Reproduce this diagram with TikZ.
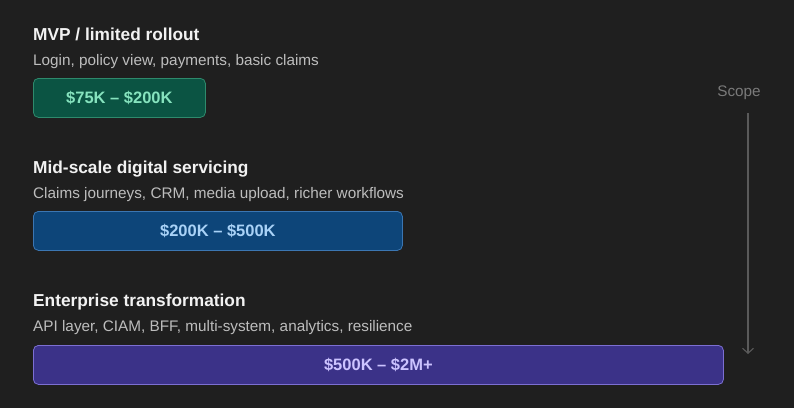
\documentclass[tikz,border=0pt]{standalone}
\usepackage{fontspec}
\setmainfont{Liberation Sans}
\usepackage{tikz}
\usetikzlibrary{arrows.meta, positioning}
\definecolor{BgDark}{HTML}{1F1F1F}
\definecolor{TitleWhite}{HTML}{F2F2F2}
\definecolor{SubGrey}{HTML}{BDBDBD}
\definecolor{ScopeGrey}{HTML}{7A7A7A}
\definecolor{ArrowGrey}{HTML}{5A5A5A}
\definecolor{GreenFill}{HTML}{0B5443}
\definecolor{GreenLine}{HTML}{2E8A6C}
\definecolor{GreenText}{HTML}{86E3BE}
\definecolor{BlueFill}{HTML}{0D4579}
\definecolor{BlueLine}{HTML}{3B76B2}
\definecolor{BlueText}{HTML}{A9D2F7}
\definecolor{PurpleFill}{HTML}{3B3288}
\definecolor{PurpleLine}{HTML}{7C6FD2}
\definecolor{PurpleText}{HTML}{CCC3FF}

\begin{document}
\begin{tikzpicture}[x=1pt, y=1pt,
    tiertitle/.style={anchor=base west, inner sep=0pt, text=TitleWhite, font=\fontsize{17.3}{19}\selectfont\bfseries},
    tiersub/.style={anchor=base west, inner sep=0pt, text=SubGrey, font=\fontsize{15.3}{17}\selectfont},
    costbox/.style={anchor=north west, rounded corners=5pt, line width=0.8pt, minimum height=39pt, inner sep=0pt, font=\fontsize{16.5}{18}\selectfont\bfseries}]
    \fill[BgDark] (0,0) rectangle (794,-408);
    \useasboundingbox (0,0) rectangle (794,-408);
    % tier 1
    \node[tiertitle] (mvpTitle) at (33,-40) {MVP / limited rollout};
    \node[tiersub]   (mvpSub)   at (33,-65) {Login, policy view, payments, basic claims};
    \node[costbox, draw=GreenLine, fill=GreenFill, text=GreenText, minimum width=172pt] (mvpCost) at (33,-78) {\$75K – \$200K};
    % tier 2
    \node[tiertitle] (midTitle) at (33,-173) {Mid-scale digital servicing};
    \node[tiersub]   (midSub)   at (33,-198) {Claims journeys, CRM, media upload, richer workflows};
    \node[costbox, draw=BlueLine, fill=BlueFill, text=BlueText, minimum width=369pt] (midCost) at (33,-211) {\$200K – \$500K};
    % tier 3
    \node[tiertitle] (entTitle) at (33,-306) {Enterprise transformation};
    \node[tiersub]   (entSub)   at (33,-331) {API layer, CIAM, BFF, multi-system, analytics, resilience};
    \node[costbox, draw=PurpleLine, fill=PurpleFill, text=PurpleText, minimum width=690pt] (entCost) at (33,-345) {\$500K – \$2M+};
    % scope axis
    \node[text=ScopeGrey, font=\fontsize{15.3}{17}\selectfont] (scope) at (739,-93) {Scope};
    \coordinate (scopeTop) at (748,-113);
    \coordinate (scopeEnd) at (748,-354);
    \draw[ArrowGrey, line width=1.1pt, -{Straight Barb[length=5pt, width=11pt]}] (scopeTop) -- (scopeEnd);
\end{tikzpicture}
\end{document}
